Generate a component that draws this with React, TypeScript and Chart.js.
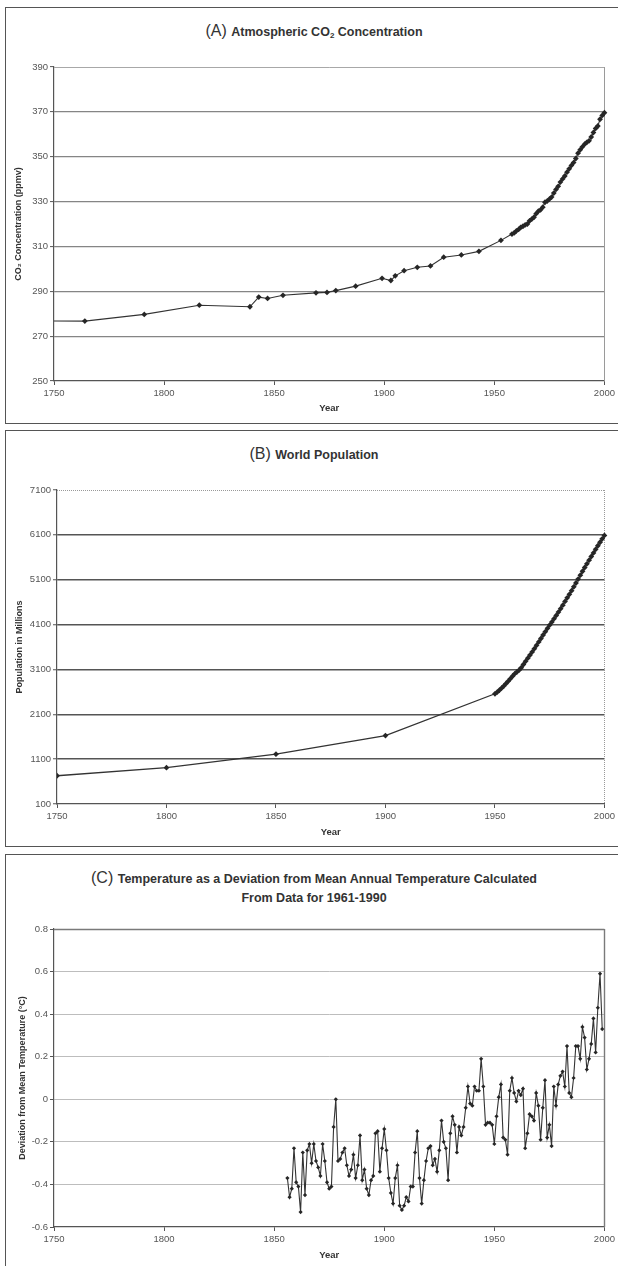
import React, { useEffect, useRef } from "react";
import { Chart, registerables } from "chart.js";

Chart.register(...registerables);

// ---------- DATA ----------
// (A) Atmospheric CO2 (ppmv): ice core + Mauna Loa annual means
const co2Years = [
  1744, 1764, 1791, 1816, 1839, 1843, 1847, 1854, 1869, 1874, 1878, 1887, 1899, 1903, 1905, 1909,
  1915, 1921, 1927, 1935, 1943, 1953, 1958, 1959, 1960, 1961, 1962, 1963, 1964, 1965, 1966, 1967,
  1968, 1969, 1970, 1971, 1972, 1973, 1974, 1975, 1976, 1977, 1978, 1979, 1980, 1981, 1982, 1983,
  1984, 1985, 1986, 1987, 1988, 1989, 1990, 1991, 1992, 1993, 1994, 1995, 1996, 1997, 1998, 1999, 2000,
];
const co2Values = [
  276.8, 276.7, 279.7, 283.8, 283.1, 287.4, 286.8, 288.2, 289.3, 289.5, 290.3, 292.3, 295.8, 294.8, 296.9, 299.2,
  300.7, 301.3, 305.2, 306.2, 307.8, 312.7, 315.5, 316.0, 316.9, 317.6, 318.5, 319.0, 319.6, 320.0, 321.4, 322.2,
  323.0, 324.6, 325.7, 326.3, 327.5, 329.7, 330.2, 331.1, 332.0, 333.8, 335.4, 336.8, 338.7, 340.1, 341.4, 343.1,
  344.6, 346.1, 347.4, 349.2, 351.6, 353.1, 354.4, 355.6, 356.4, 357.1, 358.8, 360.8, 362.6, 363.7, 366.7, 368.4, 369.6,
];

// (B) World population (millions)
const popYears = [
  1750, 1800, 1850, 1900, 1950, 1951, 1952, 1953, 1954, 1955, 1956, 1957, 1958, 1959, 1960, 1961, 1962,
  1963, 1964, 1965, 1966, 1967, 1968, 1969, 1970, 1971, 1972, 1973, 1974, 1975, 1976, 1977, 1978, 1979,
  1980, 1981, 1982, 1983, 1984, 1985, 1986, 1987, 1988, 1989, 1990, 1991, 1992, 1993, 1994, 1995, 1996,
  1997, 1998, 1999, 2000,
];
const popValues = [
  730, 910, 1210, 1625, 2557, 2594, 2636, 2682, 2730, 2782, 2835, 2891, 2948, 3001, 3043, 3084, 3140,
  3210, 3281, 3350, 3421, 3490, 3562, 3637, 3713, 3790, 3867, 3942, 4017, 4089, 4160, 4232, 4304, 4379,
  4455, 4533, 4615, 4696, 4775, 4856, 4941, 5027, 5115, 5201, 5289, 5372, 5455, 5536, 5617, 5697, 5777,
  5857, 5935, 6012, 6088,
];

// (C) Temperature deviation (°C), one value per year starting 1856
const tempStartYear = 1856;
const tempValues = [
  -0.37, -0.46, -0.42, -0.23, -0.39, -0.41, -0.53, -0.25, -0.45, -0.24,
  -0.21, -0.3, -0.21, -0.29, -0.32, -0.36, -0.21, -0.29, -0.39, -0.42,
  -0.41, -0.13, 0.0, -0.29, -0.28, -0.25, -0.23, -0.31, -0.36, -0.33,
  -0.26, -0.37, -0.31, -0.17, -0.38, -0.33, -0.42, -0.45, -0.38, -0.36,
  -0.16, -0.15, -0.34, -0.23, -0.14, -0.24, -0.37, -0.44, -0.49, -0.37,
  -0.31, -0.5, -0.52, -0.5, -0.46, -0.48, -0.41, -0.41, -0.25, -0.15,
  -0.37, -0.49, -0.38, -0.29, -0.23, -0.22, -0.31, -0.28, -0.34, -0.24,
  -0.1, -0.2, -0.23, -0.38, -0.16, -0.08, -0.12, -0.25, -0.13, -0.17,
  -0.13, -0.04, 0.06, -0.02, -0.03, 0.06, 0.04, 0.04, 0.19, 0.06,
  -0.12, -0.11, -0.11, -0.12, -0.21, -0.08, 0.01, 0.07, -0.18, -0.19,
  -0.26, 0.04, 0.1, 0.03, -0.01, 0.04, 0.02, 0.05, -0.23, -0.16,
  -0.07, -0.08, -0.1, 0.03, -0.03, -0.19, -0.04, 0.09, -0.18, -0.12,
  -0.22, 0.06, -0.03, 0.07, 0.11, 0.13, 0.06, 0.25, 0.03, 0.01,
  0.1, 0.25, 0.25, 0.19, 0.34, 0.29, 0.14, 0.19, 0.26, 0.38,
  0.22, 0.43, 0.59, 0.33,
];
const tempYears = tempValues.map((_, i) => tempStartYear + i);

// Axis ranges / tick labels
const xMin = 1750;
const xMax = 2000;
const xStep = 50;
const co2Axis = { min: 250, max: 390, step: 20 };
const popAxis = { min: 100, max: 7100, step: 1000 };
const tempAxis = { min: -0.6, max: 0.8, step: 0.2 };

// ---------- STYLE ----------
const FONT = "'Liberation Sans', Arial, Helvetica, sans-serif";

const edgesPlugin = {
  id: "edges",
  beforeDatasetsDraw(chart: any, _args: any, opts: any) {
    const { ctx, chartArea } = chart;
    if (!chartArea || !opts) return;
    const { left, right, top, bottom } = chartArea;
    const line = (spec: any, x1: number, y1: number, x2: number, y2: number) => {
      if (!spec) return;
      ctx.save();
      ctx.strokeStyle = spec.color;
      ctx.lineWidth = spec.width;
      ctx.setLineDash(spec.dash || []);
      ctx.beginPath();
      ctx.moveTo(x1, y1);
      ctx.lineTo(x2, y2);
      ctx.stroke();
      ctx.restore();
    };
    const t = Math.round(top) + 0.5;
    const r = Math.round(right) + 0.5;
    line(opts.top, left, t, right, t);
    line(opts.right, r, top, r, bottom);
  },
};

type Panel = {
  canvasTop: number;
  canvasHeight: number;
  padTop: number;
  xAxisHeight: number;
  yAxisWidth: number;
  xTitlePadBottom: number;
  yTitlePad: number;
  yTitle: string;
  axis: { min: number; max: number; step: number };
  yFormat: (v: number) => string;
  xs: number[];
  ys: number[];
  gridColor: string;
  gridWidth: number;
  edges: any;
  pointRadius: number;
  lineWidth: number;
};

function ChartPanel({ p }: { p: Panel }) {
  const ref = useRef<HTMLCanvasElement | null>(null);
  useEffect(() => {
    if (!ref.current) return;
    const { min, max, step } = p.axis;
    const chart = new Chart(ref.current, {
      type: "line",
      data: {
        datasets: [
          {
            data: p.xs.map((x, i) => ({ x, y: p.ys[i] })),
            borderColor: "#333",
            borderWidth: p.lineWidth,
            pointStyle: "rectRot",
            pointRadius: p.pointRadius,
            pointBackgroundColor: "#262626",
            pointBorderColor: "#262626",
            pointBorderWidth: 0,
            tension: 0,
            fill: false,
            clip: { left: 0, top: 6, right: 6, bottom: 6 } as any,
          },
        ],
      },
      options: {
        responsive: false,
        animation: false,
        devicePixelRatio: 1,
        layout: { padding: { top: p.padTop, right: 13, bottom: 0, left: 0 } },
        plugins: {
          legend: { display: false },
          tooltip: { enabled: false },
          title: { display: false },
          edges: p.edges,
        } as any,
        scales: {
          x: {
            type: "linear",
            min: xMin,
            max: xMax,
            ticks: {
              stepSize: xStep,
              callback: (v: any) => String(v),
              font: { family: FONT, size: 9.5 },
              color: "#555",
              padding: 3,
              maxRotation: 0,
              autoSkip: false,
            },
            grid: {
              drawOnChartArea: false,
              drawTicks: true,
              tickLength: 4,
              tickColor: "#555",
              tickWidth: 1,
            },
            border: { display: true, color: "#555", width: 1.3 },
            title: {
              display: true,
              text: "Year",
              font: { family: FONT, size: 9.5, weight: "bold" },
              color: "#333",
              padding: { top: 0, bottom: p.xTitlePadBottom },
            },
            afterFit: (s: any) => {
              s.height = p.xAxisHeight;
            },
          },
          y: {
            type: "linear",
            min,
            max,
            ticks: {
              stepSize: step,
              callback: (v: any) => p.yFormat(Number(v)),
              font: { family: FONT, size: 9.5 },
              color: "#555",
              padding: 2,
            },
            grid: {
              color: (c: any) => {
                const v = c.tick ? c.tick.value : NaN;
                if (Math.abs(v - max) < 1e-9 || Math.abs(v - min) < 1e-9) return "rgba(0,0,0,0)";
                return p.gridColor;
              },
              lineWidth: p.gridWidth,
              drawTicks: true,
              tickLength: 4,
              tickColor: "#555",
              tickWidth: 1,
            },
            border: { display: true, color: "#555", width: 1.2 },
            title: {
              display: true,
              text: p.yTitle,
              font: { family: FONT, size: 9, weight: "bold" },
              color: "#333",
              padding: { top: p.yTitlePad, bottom: 0 },
            },
            afterFit: (s: any) => {
              s.width = p.yAxisWidth;
            },
          },
        },
      },
      plugins: [edgesPlugin],
    } as any);
    return () => chart.destroy();
  }, [p]);
  return (
    <canvas
      ref={ref}
      width={618}
      height={p.canvasHeight}
      style={{ position: "absolute", left: 0, top: p.canvasTop, width: 618, height: p.canvasHeight }}
    />
  );
}

const fmtInt = (v: number) => String(Math.round(v));
const fmtTenth = (v: number) => {
  const r = Math.round(v * 10) / 10;
  return r === 0 ? "0" : String(r);
};

const panelA: Panel = {
  canvasTop: 56,
  canvasHeight: 368,
  padTop: 11,
  xAxisHeight: 43,
  yAxisWidth: 54,
  xTitlePadBottom: 9.8,
  yTitlePad: 13.6,
  yTitle: "CO\u2082 Concentration (ppmv)",
  axis: co2Axis,
  yFormat: fmtInt,
  xs: co2Years,
  ys: co2Values,
  gridColor: "#858585",
  gridWidth: 1.2,
  edges: {
    top: { color: "#a8a8a8", width: 1 },
    right: { color: "#9a9a9a", width: 1 },
  },
  pointRadius: 2.9,
  lineWidth: 1.1,
};

const panelB: Panel = {
  canvasTop: 478,
  canvasHeight: 369,
  padTop: 12,
  xAxisHeight: 43,
  yAxisWidth: 57,
  xTitlePadBottom: 9,
  yTitlePad: 14.1,
  yTitle: "Population in Millions",
  axis: popAxis,
  yFormat: fmtInt,
  xs: popYears,
  ys: popValues,
  gridColor: "#555",
  gridWidth: 1.5,
  edges: {
    top: { color: "#999", width: 1, dash: [1, 1] },
    right: { color: "#999", width: 1, dash: [1, 1] },
  },
  pointRadius: 2.9,
  lineWidth: 1.3,
};

const panelC: Panel = {
  canvasTop: 912,
  canvasHeight: 354,
  padTop: 17,
  xAxisHeight: 39,
  yAxisWidth: 54,
  xTitlePadBottom: 4.6,
  yTitlePad: 17.1,
  yTitle: "Deviation from Mean Temperature (\u00B0C)",
  axis: tempAxis,
  yFormat: fmtTenth,
  xs: tempYears,
  ys: tempValues,
  gridColor: "#bdbdbd",
  gridWidth: 1,
  edges: {
    top: { color: "#7a7a7a", width: 1.4 },
    right: { color: "#7a7a7a", width: 1.4 },
  },
  pointRadius: 2.1,
  lineWidth: 1.1,
};

const frameStyle = (top: number, height: number): React.CSSProperties => ({
  position: "absolute",
  left: 5,
  top,
  width: 640,
  height,
  border: "1.5px solid #555",
  boxSizing: "border-box",
});

const titleBase: React.CSSProperties = {
  position: "absolute",
  left: 0,
  width: 628,
  textAlign: "center",
  fontFamily: FONT,
  color: "#333",
  whiteSpace: "nowrap",
};
const bigLetter: React.CSSProperties = { fontSize: 16, fontWeight: "normal" };
const boldText: React.CSSProperties = { fontSize: 12.5, fontWeight: "bold" };

export default function App() {
  return (
    <div
      style={{
        position: "absolute",
        left: 0,
        top: 0,
        width: 618,
        height: 1266,
        overflow: "hidden",
        background: "#fff",
      }}
    >
      <div style={frameStyle(7, 417)} />
      <div style={frameStyle(430, 417)} />
      <div style={frameStyle(854, 430)} />

      <div style={{ ...titleBase, top: 21, height: 20, lineHeight: "20px" }}>
        <span style={bigLetter}>(A)</span>{" "}
        <span style={boldText}>
          Atmospheric CO<sub style={{ fontSize: 8, verticalAlign: "-2px" }}>2</sub> Concentration
        </span>
      </div>
      <div style={{ ...titleBase, top: 444, height: 20, lineHeight: "20px" }}>
        <span style={bigLetter}>(B)</span> <span style={boldText}>World Population</span>
      </div>
      <div style={{ ...titleBase, top: 869, lineHeight: "17px" }}>
        <span style={bigLetter}>(C)</span>{" "}
        <span style={boldText}>Temperature as a Deviation from Mean Annual Temperature Calculated</span>
        <br />
        <span style={boldText}>From Data for 1961-1990</span>
      </div>

      <ChartPanel p={panelA} />
      <ChartPanel p={panelB} />
      <ChartPanel p={panelC} />
    </div>
  );
}
